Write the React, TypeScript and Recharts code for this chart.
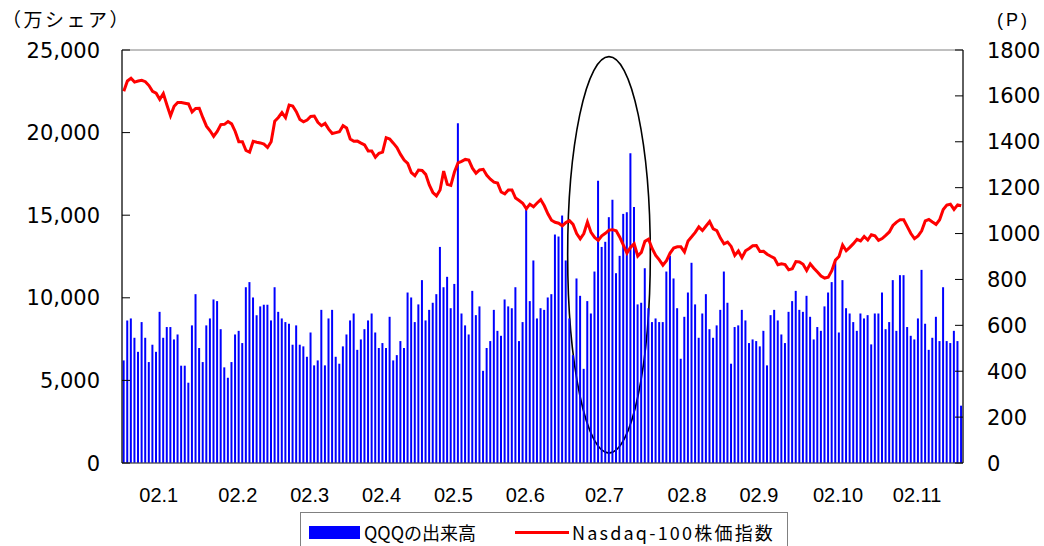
import { ComposedChart, Bar, Line, XAxis, YAxis, ReferenceArea } from "recharts";

// QQQ daily volume (万シェア), Dec 2001 - Nov 2002
const qqqVolume = [
  6210, 8630, 8750, 7580, 6730, 8530, 7580, 6110, 7160, 6730, 9150, 7580, 8230, 8230, 7480, 7780, 5890, 5890, 4860, 8330,
  10220, 6960, 6110, 8330, 8750, 9900, 9800, 8100, 5790, 5160, 6110, 7780, 8000, 7260, 10640, 10950, 10020, 8950, 9480,
  9580, 9580, 8630, 10640, 9150, 8750, 8530, 8430, 7160, 8330, 7160, 7060, 6430, 7900, 5910, 6210, 9270, 5910, 8750, 9270,
  6430, 6010, 7060, 7780, 8630, 9050, 6850, 7480, 8100, 8630, 9050, 7900, 6960, 7260, 6960, 8850, 6210, 6530, 7380,
  6960, 10320, 10020, 8530, 9600, 11070, 8630, 9270, 9700, 10220, 13080, 10640, 11270, 9370, 10840, 20560, 9050, 8330, 7780, 10420,
  8950, 9480, 5580, 6960, 7380, 9270, 8000, 7700, 9900, 9480, 9370, 10640, 7380, 8530, 15400, 9800, 12260, 8750,
  9370, 9270, 10020, 10220, 13830, 13710, 14980, 12260, 8750, 6530, 11170, 10120, 5700, 9800, 9050, 11590, 17080, 13080, 13390, 14880,
  15930, 11490, 12540, 15080, 15180, 18750, 15500, 9600, 9700, 11790, 9370, 8530, 8750, 8530, 8530, 11590, 12540, 11170, 9370,
  6310, 8850, 10320, 12120, 9600, 7580, 9050, 10220, 8100, 7580, 8330, 9270, 11590, 9700, 6010, 8230, 8330, 9270, 8630, 7260,
  7480, 7380, 7060, 8000, 5910, 8950, 9270, 8630, 7780, 7260, 9150, 9800, 10420, 9270, 9150, 10120, 8850, 7480, 8230,
  8000, 9480, 10320, 10950, 12200, 7900, 11070, 9370, 9050, 8530, 8000, 9050, 8750, 8950, 7180, 9050, 9050, 10320, 8100, 8530,
  11070, 8000, 11370, 11370, 8230, 7700, 7480, 8750, 11690, 8430, 6850, 7580, 8850, 7380, 10640, 7380, 7260, 8000, 7380, 3470,
];

// Nasdaq-100 close (P)
const nasdaq100 = [
  1620, 1665, 1677, 1660, 1665, 1668, 1662, 1645, 1620, 1612, 1585, 1610, 1560, 1513, 1555, 1571, 1571, 1568, 1565, 1530,
  1545, 1546, 1505, 1468, 1448, 1424, 1445, 1475, 1476, 1488, 1478, 1445, 1400, 1400, 1362, 1355, 1402, 1398, 1395,
  1390, 1375, 1400, 1490, 1506, 1527, 1505, 1560, 1556, 1531, 1497, 1487, 1495, 1510, 1512, 1485, 1470, 1480, 1455, 1436,
  1440, 1444, 1470, 1460, 1412, 1402, 1403, 1394, 1386, 1360, 1360, 1333, 1350, 1355, 1418, 1412, 1394, 1375, 1345,
  1320, 1306, 1266, 1252, 1277, 1275, 1258, 1212, 1179, 1164, 1190, 1272, 1215, 1210, 1268, 1308, 1315, 1323, 1320, 1285,
  1263, 1277, 1280, 1254, 1237, 1224, 1220, 1181, 1173, 1190, 1190, 1155, 1144, 1132, 1108, 1128, 1117, 1133,
  1148, 1121, 1086, 1058, 1049, 1045, 1034, 1048, 1056, 1040, 1000, 977, 1000, 1050, 1005, 983, 970, 990, 1001, 1015,
  1017, 1012, 984, 950, 915, 940, 955, 902, 918, 966, 975, 935, 905, 885, 862, 882, 915, 937, 942,
  942, 920, 968, 986, 1005, 1029, 1013, 1033, 1052, 1020, 1013, 980, 955, 963, 944, 905, 924, 895, 925, 935,
  947, 948, 922, 923, 910, 901, 893, 864, 868, 865, 842, 847, 878, 876, 866, 839, 868, 849, 832,
  815, 806, 810, 838, 884, 900, 950, 925, 940, 956, 975, 968, 987, 972, 995, 990, 970, 978, 992, 1007,
  1035, 1050, 1060, 1060, 1030, 1000, 978, 990, 1012, 1055, 1061, 1050, 1040, 1060, 1105, 1124, 1128, 1105, 1125, 1121,
];

// first trading day of each month (index into the series) and its label
const monthTickIdx = [10, 32, 52, 72, 92, 112, 134, 157, 177, 199, 221];
const monthLabels = ["02.1", "02.2", "02.3", "02.4", "02.5", "02.6", "02.7", "02.8", "02.9", "02.10", "02.11"];

const volumeTicks = [0, 5000, 10000, 15000, 20000, 25000];
const indexTicks = [0, 200, 400, 600, 800, 1000, 1200, 1400, 1600, 1800];

// circled period (July 2002)
const circleFrom = 124;
const circleTo = 146;
const circleLow = 600;
const circleHigh = 24600;

const data = qqqVolume.map((v, i) => ({ idx: i, vol: v, ndx: nasdaq100[i] }));

const numFont = "'DejaVu Sans', sans-serif";
const monthFont = "'Liberation Sans', Arial, sans-serif";
const jpFont = "'Noto Sans CJK JP', sans-serif";

const LeftTick = ({ x, y, payload }: any) => (
  <g>
    <line x1={x} x2={x + 8} y1={y} y2={y} stroke="#000" />
    <text x={x - 22} y={y} dy="0.36em" textAnchor="end" fontSize={21} fontFamily={numFont} fill="#000">
      {Number(payload.value).toLocaleString("en-US")}
    </text>
  </g>
);

const RightTick = ({ x, y, payload }: any) => (
  <g>
    <line x1={x - 8} x2={x} y1={y} y2={y} stroke="#000" />
    <text x={x + 24} y={y} dy="0.36em" textAnchor="start" fontSize={21} fontFamily={numFont} fill="#000">
      {payload.value}
    </text>
  </g>
);

const MonthTick = ({ x, y, payload }: any) => {
  const k = monthTickIdx.indexOf(payload.value);
  return (
    <text x={x - 1} y={y + 32} dy="0.36em" textAnchor="middle" fontSize={20} fontFamily={monthFont} fill="#000">
      {k >= 0 ? monthLabels[k] : ""}
    </text>
  );
};

export default function App() {
  return (
    <div style={{ position: "absolute", left: 0, top: 0, width: 1044, height: 546, background: "#fff", overflow: "hidden" }}>
      <div
        style={{
          position: "absolute",
          left: 2,
          top: 7,
          fontFamily: jpFont,
          fontSize: 19,
          lineHeight: "24px",
          letterSpacing: 2.5,
        }}
      >
        （万シェア）
      </div>
      <div
        style={{
          position: "absolute",
          left: 997,
          top: 8,
          fontFamily: monthFont,
          fontSize: 18,
          lineHeight: "24px",
          letterSpacing: 3,
        }}
      >
        (P)
      </div>
      <ComposedChart
        width={1044}
        height={546}
        data={data}
        margin={{ top: 50, right: 0, bottom: 53, left: 0 }}
        barCategoryGap="18%"
      >
        <ReferenceArea
          yAxisId="left"
          x1={0}
          x2={data.length - 1}
          y1={0}
          y2={25000}
          fill="none"
          stroke="#808080"
          strokeWidth={1}
          ifOverflow="visible"
        />
        <XAxis
          dataKey="idx"
          ticks={monthTickIdx}
          interval={0}
          tick={<MonthTick />}
          tickLine={false}
          tickSize={0}
          tickMargin={0}
          height={30}
          axisLine={{ stroke: "#505050" }}
        />
        <YAxis
          yAxisId="left"
          domain={[0, 25000]}
          ticks={volumeTicks}
          width={122}
          tick={<LeftTick />}
          tickLine={false}
          tickSize={0}
          tickMargin={0}
          axisLine={{ stroke: "#000" }}
          interval={0}
        />
        <YAxis
          yAxisId="right"
          orientation="right"
          domain={[0, 1800]}
          ticks={indexTicks}
          width={81}
          tick={<RightTick />}
          tickLine={false}
          tickSize={0}
          tickMargin={0}
          axisLine={{ stroke: "#000" }}
          interval={0}
        />
        <Bar yAxisId="left" dataKey="vol" fill="#0000FF" isAnimationActive={false} />
        <Line
          yAxisId="right"
          dataKey="ndx"
          type="linear"
          stroke="#FF0000"
          strokeWidth={3}
          dot={false}
          activeDot={false}
          isAnimationActive={false}
        />
        <ReferenceArea
          yAxisId="left"
          x1={circleFrom}
          x2={circleTo}
          y1={circleLow}
          y2={circleHigh}
          ifOverflow="visible"
          shape={(p: any) => (
            <ellipse
              cx={p.x + p.width / 2}
              cy={p.y + p.height / 2}
              rx={p.width / 2}
              ry={p.height / 2}
              fill="none"
              stroke="#000"
              strokeWidth={1.6}
            />
          )}
        />
      </ComposedChart>
      <div
        style={{
          position: "absolute",
          left: 300,
          top: 512,
          width: 486,
          height: 44,
          border: "1px solid #808080",
          background: "#fff",
          fontFamily: jpFont,
          fontSize: 18,
        }}
      >
        <div style={{ position: "absolute", left: 8, top: 13, width: 51, height: 13, background: "#0000FF" }} />
        <div style={{ position: "absolute", left: 63, top: 6, lineHeight: "26px" }}>QQQの出来高</div>
        <div style={{ position: "absolute", left: 214, top: 18, width: 54, height: 3, background: "#FF0000" }} />
        <div style={{ position: "absolute", left: 271, top: 6, lineHeight: "26px", letterSpacing: 2.2 }}>
          Nasdaq-100株価指数
        </div>
      </div>
    </div>
  );
}
